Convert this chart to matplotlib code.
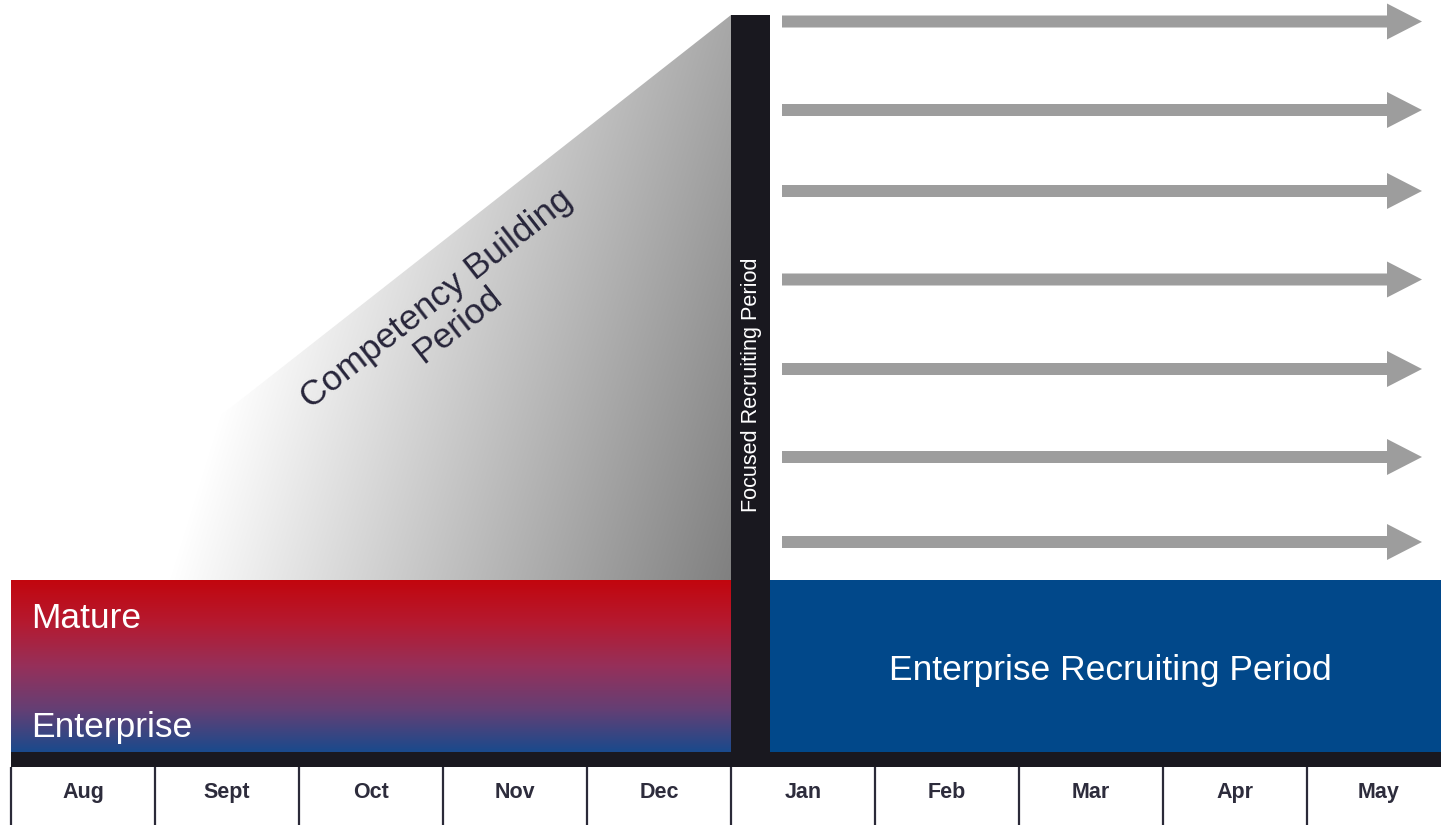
import numpy as np
import matplotlib
matplotlib.use("Agg")
import matplotlib.pyplot as plt
from matplotlib.patches import Polygon, Rectangle, FancyArrow
from matplotlib.colors import LinearSegmentedColormap

# ---- data ----
months = ["Aug", "Sept", "Oct", "Nov", "Dec", "Jan", "Feb", "Mar", "Apr", "May"]
phase_left_top = "Mature"
phase_left_bottom = "Enterprise"
phase_right = "Enterprise Recruiting Period"
focus_label = "Focused Recruiting Period"
build_label = "Competency Building\nPeriod"
n_arrows = 7

# ---- layout (pixels) ----
W, H = 1441, 825
plt.rcParams['font.family'] = ['Liberation Sans', 'DejaVu Sans']
fig = plt.figure(figsize=(W / 100, H / 100), dpi=100)
ax = fig.add_axes([0, 0, 1, 1])
ax.set_xlim(0, W)
ax.set_ylim(H, 0)
ax.axis('off')

dark = "#19181f"
x0, col_w = 11, 144.0
bar_l, bar_r = 731, 770
box_top, box_bot = 580, 752
strip_bot = 767
tri_top = 15

# gradient triangle
xs = np.arange(x0, bar_l) + 0.5
ys = np.arange(tri_top, box_top) + 0.5
X, Y = np.meshgrid(xs, ys)
g = 255 - 0.226 * (X - 170) - 0.07 * (Y - 580)
g = np.clip(g, 0, 255) / 255.0
img = np.dstack([g, g, g])
im = ax.imshow(img, extent=(x0, bar_l, box_top, tri_top), origin='upper',
               interpolation='bilinear', zorder=1, aspect='auto')
tri = Polygon([(bar_l, tri_top), (bar_l, box_top), (x0, box_top)], closed=True,
              transform=ax.transData, facecolor='none', edgecolor='none')
ax.add_patch(tri)
im.set_clip_path(tri)

# red-blue gradient box
cmap = LinearSegmentedColormap.from_list(
    "rb", [(0.0, "#c2060e"), (0.25, "#b51a30"), (0.5, "#96305a"),
           (0.75, "#653f74"), (1.0, "#1a4a8c")])
grad = np.linspace(0, 1, 256).reshape(-1, 1)
ax.imshow(grad, cmap=cmap, extent=(x0, bar_l, box_bot, box_top), origin='upper',
          aspect='auto', interpolation='bilinear', zorder=2)

# blue box
ax.add_patch(Rectangle((bar_r, box_top), W - bar_r, box_bot - box_top,
                       facecolor="#01488a", edgecolor='none', zorder=2))

# dark strip and vertical bar
ax.add_patch(Rectangle((x0, box_bot), W - x0, strip_bot - box_bot,
                       facecolor=dark, edgecolor='none', zorder=3))
ax.add_patch(Rectangle((bar_l, tri_top), bar_r - bar_l, strip_bot - tri_top,
                       facecolor=dark, edgecolor='none', zorder=3))

# arrows
arrow_y = [21.5, 110, 191, 279.5, 369, 457, 542]
for yy in arrow_y[:n_arrows]:
    ax.add_patch(FancyArrow(782, yy, 1422 - 782, 0, width=12, head_width=36,
                            head_length=35, length_includes_head=True,
                            facecolor="#9d9d9d", edgecolor='none', zorder=2))

# month dividers and labels
for i, m in enumerate(months):
    xl = x0 + col_w * i
    ax.plot([xl, xl], [strip_bot, H], color="#2b2a38", lw=1.6, zorder=4,
            solid_capstyle='butt')
    ax.text(xl + col_w / 2, 798, m, ha='center', va='baseline', fontsize=15.5,
            fontweight='bold', color="#2d2c3c", zorder=5)

# texts
ax.text(31, 628, phase_left_top, ha='left', va='baseline', fontsize=25.5,
        color='white', zorder=5)
ax.text(31, 737, phase_left_bottom, ha='left', va='baseline', fontsize=25.5,
        color='white', zorder=5)
ax.text(1110, 680, phase_right, ha='center', va='baseline', fontsize=25.5,
        color='white', zorder=5)
ax.text(752, 385, focus_label, ha='center', va='center', rotation=90,
        fontsize=15.6, color='white', zorder=5)
ax.text(447, 312, build_label, ha='center', va='center', rotation=38,
        rotation_mode='anchor', multialignment='center', fontsize=25.5,
        color="#27253a", linespacing=1.0, zorder=5)

fig.savefig("out.png", dpi=100)
